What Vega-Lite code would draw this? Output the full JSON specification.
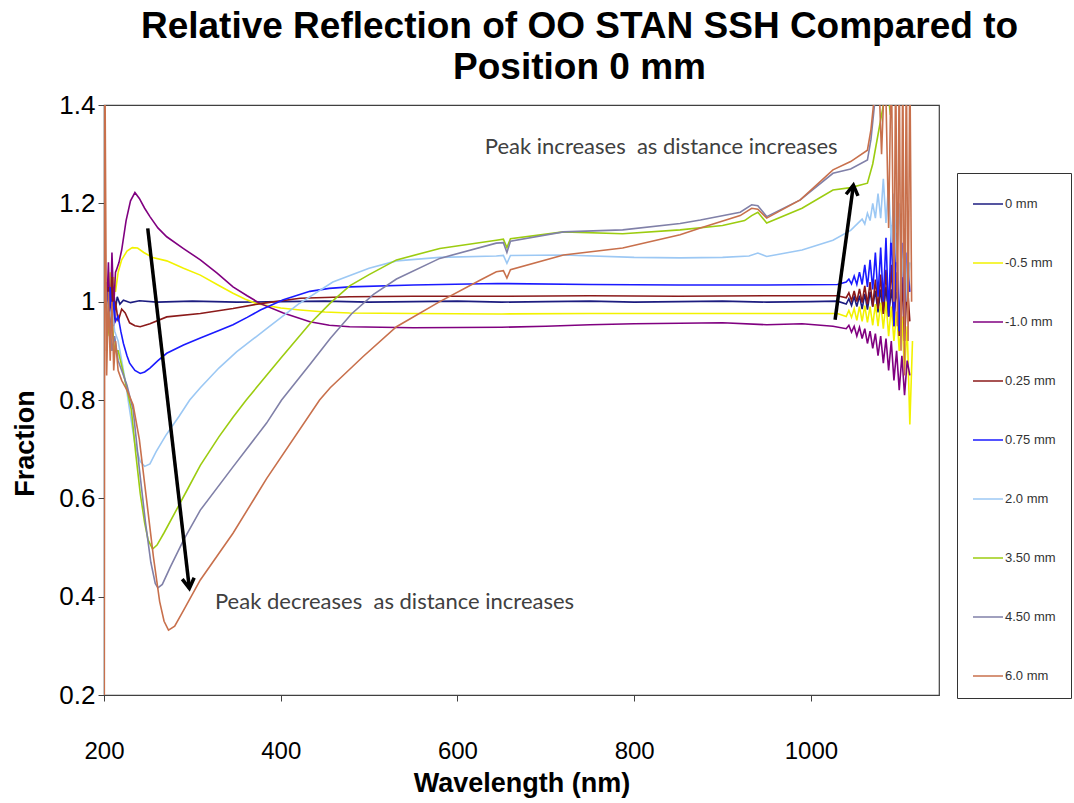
{
  "$schema": "https://vega.github.io/schema/vega-lite/v6.json",
  "autosize": {"type": "none"},
  "width": 835,
  "height": 590,
  "padding": {"left": 104, "top": 105, "right": 135, "bottom": 108},
  "background": "white",
  "title": {
    "text": ["Relative Reflection of OO STAN SSH Compared to", "Position 0 mm"],
    "anchor": "middle",
    "dx": 58,
    "dy": 48,
    "baseline": "bottom",
    "offset": 16,
    "fontSize": 37,
    "lineHeight": 41,
    "font": "Liberation Sans",
    "fontWeight": "bold",
    "color": "#000000"
  },
  "config": {
    "view": {"stroke": "#404040", "strokeWidth": 1.2},
    "axis": {
      "grid": false,
      "domainColor": "#404040",
      "tickColor": "#404040",
      "tickSize": 6,
      "labelFlush": false,
      "labelFont": "Liberation Sans",
      "labelColor": "#000000",
      "titleFont": "Liberation Sans",
      "titleFontWeight": "bold",
      "titleColor": "#000000"
    },
    "axisX": {"labelFontSize": 24, "labelPadding": 38, "titleFontSize": 27, "titleY": 88, "titleBaseline": "middle"},
    "axisY": {"labelFontSize": 26, "labelPadding": 3, "titleFontSize": 27, "titleX": -79, "titleY": 338, "titleBaseline": "middle", "titleAngle": 270, "titleAlign": "center"}
  },
  "datasets": {
    "spectra": [
      {"s":"0 mm","x":203,"y":1.04},{"s":"0 mm","x":205,"y":0.96},{"s":"0 mm","x":207,"y":1.03},{"s":"0 mm","x":209,"y":0.98},{"s":"0 mm","x":211,"y":1.02},{"s":"0 mm","x":213,"y":0.985},{"s":"0 mm","x":215,"y":1.01},{"s":"0 mm","x":218,"y":0.995},{"s":"0 mm","x":222,"y":1.003},{"s":"0 mm","x":230,"y":0.998},{"s":"0 mm","x":240,"y":1.002},{"s":"0 mm","x":260,"y":0.999},{"s":"0 mm","x":300,"y":1.001},{"s":"0 mm","x":350,"y":0.999},{"s":"0 mm","x":400,"y":1.0},{"s":"0 mm","x":450,"y":1.001},{"s":"0 mm","x":500,"y":0.999},{"s":"0 mm","x":550,"y":1.0},{"s":"0 mm","x":600,"y":1.001},{"s":"0 mm","x":650,"y":0.999},{"s":"0 mm","x":700,"y":1.0},{"s":"0 mm","x":750,"y":1.001},{"s":"0 mm","x":800,"y":0.999},{"s":"0 mm","x":850,"y":1.0},{"s":"0 mm","x":900,"y":1.001},{"s":"0 mm","x":950,"y":0.999},{"s":"0 mm","x":1000,"y":1.0},{"s":"0 mm","x":1030,"y":1.001},{"s":"0 mm","x":1040,"y":0.995},{"s":"0 mm","x":1043,"y":1.006},{"s":"0 mm","x":1046,"y":0.992},{"s":"0 mm","x":1049,"y":1.01},{"s":"0 mm","x":1052,"y":0.99},{"s":"0 mm","x":1055,"y":1.012},{"s":"0 mm","x":1058,"y":0.985},{"s":"0 mm","x":1061,"y":1.016},{"s":"0 mm","x":1064,"y":0.984},{"s":"0 mm","x":1067,"y":1.02},{"s":"0 mm","x":1070,"y":0.99},{"s":"0 mm","x":1073,"y":1.022},{"s":"0 mm","x":1076,"y":0.978},{"s":"0 mm","x":1079,"y":1.025},{"s":"0 mm","x":1082,"y":0.975},{"s":"0 mm","x":1085,"y":1.03},{"s":"0 mm","x":1088,"y":0.97},{"s":"0 mm","x":1091,"y":1.025},{"s":"0 mm","x":1094,"y":0.975},{"s":"0 mm","x":1097,"y":1.02},{"s":"0 mm","x":1100,"y":0.985},{"s":"0 mm","x":1104,"y":1.01},{"s":"0 mm","x":1108,"y":0.995},

      {"s":"-0.5 mm","x":203,"y":1.0},{"s":"-0.5 mm","x":205,"y":0.94},{"s":"-0.5 mm","x":207,"y":1.06},{"s":"-0.5 mm","x":209,"y":0.99},{"s":"-0.5 mm","x":211,"y":1.05},{"s":"-0.5 mm","x":213,"y":1.02},{"s":"-0.5 mm","x":216,"y":1.06},{"s":"-0.5 mm","x":220,"y":1.085},{"s":"-0.5 mm","x":226,"y":1.103},{"s":"-0.5 mm","x":232,"y":1.11},{"s":"-0.5 mm","x":238,"y":1.109},{"s":"-0.5 mm","x":245,"y":1.1},{"s":"-0.5 mm","x":255,"y":1.09},{"s":"-0.5 mm","x":271,"y":1.083},{"s":"-0.5 mm","x":290,"y":1.068},{"s":"-0.5 mm","x":309,"y":1.054},{"s":"-0.5 mm","x":330,"y":1.033},{"s":"-0.5 mm","x":346,"y":1.017},{"s":"-0.5 mm","x":360,"y":1.005},{"s":"-0.5 mm","x":373,"y":0.996},{"s":"-0.5 mm","x":400,"y":0.987},{"s":"-0.5 mm","x":422,"y":0.983},{"s":"-0.5 mm","x":450,"y":0.979},{"s":"-0.5 mm","x":478,"y":0.977},{"s":"-0.5 mm","x":550,"y":0.976},{"s":"-0.5 mm","x":650,"y":0.975},{"s":"-0.5 mm","x":750,"y":0.976},{"s":"-0.5 mm","x":850,"y":0.976},{"s":"-0.5 mm","x":950,"y":0.976},{"s":"-0.5 mm","x":1030,"y":0.976},{"s":"-0.5 mm","x":1040,"y":0.97},{"s":"-0.5 mm","x":1043,"y":0.982},{"s":"-0.5 mm","x":1046,"y":0.968},{"s":"-0.5 mm","x":1049,"y":0.986},{"s":"-0.5 mm","x":1052,"y":0.962},{"s":"-0.5 mm","x":1055,"y":0.99},{"s":"-0.5 mm","x":1058,"y":0.96},{"s":"-0.5 mm","x":1061,"y":0.992},{"s":"-0.5 mm","x":1064,"y":0.958},{"s":"-0.5 mm","x":1067,"y":0.99},{"s":"-0.5 mm","x":1070,"y":0.952},{"s":"-0.5 mm","x":1073,"y":0.995},{"s":"-0.5 mm","x":1076,"y":0.95},{"s":"-0.5 mm","x":1079,"y":0.998},{"s":"-0.5 mm","x":1082,"y":0.945},{"s":"-0.5 mm","x":1085,"y":1.0},{"s":"-0.5 mm","x":1088,"y":0.93},{"s":"-0.5 mm","x":1091,"y":0.99},{"s":"-0.5 mm","x":1094,"y":0.92},{"s":"-0.5 mm","x":1097,"y":0.98},{"s":"-0.5 mm","x":1100,"y":0.9},{"s":"-0.5 mm","x":1103,"y":0.97},{"s":"-0.5 mm","x":1106,"y":0.86},{"s":"-0.5 mm","x":1109,"y":0.95},{"s":"-0.5 mm","x":1112,"y":0.75},{"s":"-0.5 mm","x":1115,"y":0.92},

      {"s":"-1.0 mm","x":203,"y":0.98},{"s":"-1.0 mm","x":205,"y":1.08},{"s":"-1.0 mm","x":207,"y":0.95},{"s":"-1.0 mm","x":209,"y":1.1},{"s":"-1.0 mm","x":211,"y":0.99},{"s":"-1.0 mm","x":213,"y":1.06},{"s":"-1.0 mm","x":214,"y":1.064},{"s":"-1.0 mm","x":217,"y":1.08},{"s":"-1.0 mm","x":220,"y":1.105},{"s":"-1.0 mm","x":225,"y":1.165},{"s":"-1.0 mm","x":230,"y":1.205},{"s":"-1.0 mm","x":235,"y":1.222},{"s":"-1.0 mm","x":240,"y":1.21},{"s":"-1.0 mm","x":246,"y":1.19},{"s":"-1.0 mm","x":252,"y":1.173},{"s":"-1.0 mm","x":261,"y":1.15},{"s":"-1.0 mm","x":271,"y":1.132},{"s":"-1.0 mm","x":290,"y":1.108},{"s":"-1.0 mm","x":309,"y":1.085},{"s":"-1.0 mm","x":328,"y":1.058},{"s":"-1.0 mm","x":346,"y":1.03},{"s":"-1.0 mm","x":362,"y":1.012},{"s":"-1.0 mm","x":377,"y":0.996},{"s":"-1.0 mm","x":403,"y":0.977},{"s":"-1.0 mm","x":433,"y":0.959},{"s":"-1.0 mm","x":455,"y":0.952},{"s":"-1.0 mm","x":478,"y":0.949},{"s":"-1.0 mm","x":550,"y":0.947},{"s":"-1.0 mm","x":650,"y":0.948},{"s":"-1.0 mm","x":700,"y":0.95},{"s":"-1.0 mm","x":750,"y":0.953},{"s":"-1.0 mm","x":800,"y":0.955},{"s":"-1.0 mm","x":852,"y":0.956},{"s":"-1.0 mm","x":900,"y":0.957},{"s":"-1.0 mm","x":950,"y":0.953},{"s":"-1.0 mm","x":990,"y":0.955},{"s":"-1.0 mm","x":1025,"y":0.95},{"s":"-1.0 mm","x":1040,"y":0.945},{"s":"-1.0 mm","x":1043,"y":0.952},{"s":"-1.0 mm","x":1046,"y":0.938},{"s":"-1.0 mm","x":1049,"y":0.95},{"s":"-1.0 mm","x":1052,"y":0.93},{"s":"-1.0 mm","x":1055,"y":0.948},{"s":"-1.0 mm","x":1058,"y":0.925},{"s":"-1.0 mm","x":1061,"y":0.945},{"s":"-1.0 mm","x":1064,"y":0.915},{"s":"-1.0 mm","x":1067,"y":0.94},{"s":"-1.0 mm","x":1070,"y":0.905},{"s":"-1.0 mm","x":1073,"y":0.935},{"s":"-1.0 mm","x":1076,"y":0.89},{"s":"-1.0 mm","x":1079,"y":0.93},{"s":"-1.0 mm","x":1082,"y":0.875},{"s":"-1.0 mm","x":1085,"y":0.925},{"s":"-1.0 mm","x":1088,"y":0.86},{"s":"-1.0 mm","x":1091,"y":0.92},{"s":"-1.0 mm","x":1094,"y":0.84},{"s":"-1.0 mm","x":1097,"y":0.9},{"s":"-1.0 mm","x":1100,"y":0.82},{"s":"-1.0 mm","x":1103,"y":0.89},{"s":"-1.0 mm","x":1106,"y":0.81},{"s":"-1.0 mm","x":1109,"y":0.88},{"s":"-1.0 mm","x":1112,"y":0.85},

      {"s":"0.25 mm","x":203,"y":0.9},{"s":"0.25 mm","x":205,"y":1.03},{"s":"0.25 mm","x":207,"y":0.92},{"s":"0.25 mm","x":209,"y":1.05},{"s":"0.25 mm","x":211,"y":0.95},{"s":"0.25 mm","x":213,"y":1.0},{"s":"0.25 mm","x":216,"y":0.96},{"s":"0.25 mm","x":220,"y":0.985},{"s":"0.25 mm","x":224,"y":0.977},{"s":"0.25 mm","x":229,"y":0.957},{"s":"0.25 mm","x":235,"y":0.951},{"s":"0.25 mm","x":241,"y":0.949},{"s":"0.25 mm","x":252,"y":0.955},{"s":"0.25 mm","x":271,"y":0.969},{"s":"0.25 mm","x":309,"y":0.976},{"s":"0.25 mm","x":346,"y":0.986},{"s":"0.25 mm","x":377,"y":0.996},{"s":"0.25 mm","x":422,"y":1.007},{"s":"0.25 mm","x":478,"y":1.01},{"s":"0.25 mm","x":550,"y":1.011},{"s":"0.25 mm","x":650,"y":1.011},{"s":"0.25 mm","x":750,"y":1.012},{"s":"0.25 mm","x":850,"y":1.011},{"s":"0.25 mm","x":950,"y":1.012},{"s":"0.25 mm","x":1030,"y":1.012},{"s":"0.25 mm","x":1040,"y":1.008},{"s":"0.25 mm","x":1043,"y":1.018},{"s":"0.25 mm","x":1046,"y":1.002},{"s":"0.25 mm","x":1049,"y":1.022},{"s":"0.25 mm","x":1052,"y":1.0},{"s":"0.25 mm","x":1055,"y":1.026},{"s":"0.25 mm","x":1058,"y":0.998},{"s":"0.25 mm","x":1061,"y":1.032},{"s":"0.25 mm","x":1064,"y":0.995},{"s":"0.25 mm","x":1067,"y":1.04},{"s":"0.25 mm","x":1070,"y":0.99},{"s":"0.25 mm","x":1073,"y":1.045},{"s":"0.25 mm","x":1076,"y":0.985},{"s":"0.25 mm","x":1079,"y":1.055},{"s":"0.25 mm","x":1082,"y":0.975},{"s":"0.25 mm","x":1085,"y":1.065},{"s":"0.25 mm","x":1088,"y":0.97},{"s":"0.25 mm","x":1091,"y":1.075},{"s":"0.25 mm","x":1094,"y":0.95},{"s":"0.25 mm","x":1097,"y":1.06},{"s":"0.25 mm","x":1100,"y":0.93},{"s":"0.25 mm","x":1103,"y":1.05},{"s":"0.25 mm","x":1106,"y":0.92},{"s":"0.25 mm","x":1109,"y":1.04},{"s":"0.25 mm","x":1112,"y":0.96},

      {"s":"0.75 mm","x":203,"y":1.02},{"s":"0.75 mm","x":205,"y":0.96},{"s":"0.75 mm","x":207,"y":1.03},{"s":"0.75 mm","x":209,"y":0.95},{"s":"0.75 mm","x":211,"y":1.0},{"s":"0.75 mm","x":213,"y":0.96},{"s":"0.75 mm","x":216,"y":0.97},{"s":"0.75 mm","x":219,"y":0.94},{"s":"0.75 mm","x":222,"y":0.915},{"s":"0.75 mm","x":226,"y":0.89},{"s":"0.75 mm","x":229,"y":0.875},{"s":"0.75 mm","x":235,"y":0.86},{"s":"0.75 mm","x":241,"y":0.854},{"s":"0.75 mm","x":246,"y":0.857},{"s":"0.75 mm","x":252,"y":0.865},{"s":"0.75 mm","x":261,"y":0.88},{"s":"0.75 mm","x":271,"y":0.895},{"s":"0.75 mm","x":290,"y":0.912},{"s":"0.75 mm","x":309,"y":0.926},{"s":"0.75 mm","x":328,"y":0.94},{"s":"0.75 mm","x":346,"y":0.953},{"s":"0.75 mm","x":362,"y":0.968},{"s":"0.75 mm","x":377,"y":0.983},{"s":"0.75 mm","x":403,"y":1.004},{"s":"0.75 mm","x":433,"y":1.021},{"s":"0.75 mm","x":455,"y":1.027},{"s":"0.75 mm","x":478,"y":1.03},{"s":"0.75 mm","x":550,"y":1.034},{"s":"0.75 mm","x":645,"y":1.037},{"s":"0.75 mm","x":750,"y":1.035},{"s":"0.75 mm","x":850,"y":1.034},{"s":"0.75 mm","x":950,"y":1.034},{"s":"0.75 mm","x":1030,"y":1.035},{"s":"0.75 mm","x":1040,"y":1.04},{"s":"0.75 mm","x":1043,"y":1.046},{"s":"0.75 mm","x":1046,"y":1.036},{"s":"0.75 mm","x":1049,"y":1.052},{"s":"0.75 mm","x":1052,"y":1.035},{"s":"0.75 mm","x":1055,"y":1.06},{"s":"0.75 mm","x":1058,"y":1.035},{"s":"0.75 mm","x":1061,"y":1.075},{"s":"0.75 mm","x":1064,"y":1.03},{"s":"0.75 mm","x":1067,"y":1.085},{"s":"0.75 mm","x":1070,"y":1.025},{"s":"0.75 mm","x":1073,"y":1.1},{"s":"0.75 mm","x":1076,"y":1.01},{"s":"0.75 mm","x":1079,"y":1.11},{"s":"0.75 mm","x":1082,"y":1.0},{"s":"0.75 mm","x":1085,"y":1.13},{"s":"0.75 mm","x":1088,"y":0.97},{"s":"0.75 mm","x":1091,"y":1.155},{"s":"0.75 mm","x":1094,"y":0.95},{"s":"0.75 mm","x":1097,"y":1.14},{"s":"0.75 mm","x":1100,"y":0.94},{"s":"0.75 mm","x":1103,"y":1.12},{"s":"0.75 mm","x":1106,"y":0.97},{"s":"0.75 mm","x":1109,"y":1.1},{"s":"0.75 mm","x":1112,"y":1.02},

      {"s":"2.0 mm","x":203,"y":1.0},{"s":"2.0 mm","x":206,"y":0.96},{"s":"2.0 mm","x":209,"y":0.99},{"s":"2.0 mm","x":212,"y":0.94},{"s":"2.0 mm","x":216,"y":0.92},{"s":"2.0 mm","x":220,"y":0.88},{"s":"2.0 mm","x":224,"y":0.84},{"s":"2.0 mm","x":229,"y":0.78},{"s":"2.0 mm","x":235,"y":0.71},{"s":"2.0 mm","x":241,"y":0.675},{"s":"2.0 mm","x":246,"y":0.665},{"s":"2.0 mm","x":252,"y":0.67},{"s":"2.0 mm","x":259,"y":0.695},{"s":"2.0 mm","x":270,"y":0.728},{"s":"2.0 mm","x":285,"y":0.767},{"s":"2.0 mm","x":297,"y":0.8},{"s":"2.0 mm","x":309,"y":0.825},{"s":"2.0 mm","x":330,"y":0.865},{"s":"2.0 mm","x":350,"y":0.898},{"s":"2.0 mm","x":384,"y":0.945},{"s":"2.0 mm","x":420,"y":0.995},{"s":"2.0 mm","x":459,"y":1.04},{"s":"2.0 mm","x":500,"y":1.068},{"s":"2.0 mm","x":531,"y":1.083},{"s":"2.0 mm","x":580,"y":1.09},{"s":"2.0 mm","x":644,"y":1.093},{"s":"2.0 mm","x":652,"y":1.094},{"s":"2.0 mm","x":656,"y":1.078},{"s":"2.0 mm","x":660,"y":1.094},{"s":"2.0 mm","x":720,"y":1.095},{"s":"2.0 mm","x":800,"y":1.09},{"s":"2.0 mm","x":852,"y":1.089},{"s":"2.0 mm","x":900,"y":1.09},{"s":"2.0 mm","x":930,"y":1.093},{"s":"2.0 mm","x":940,"y":1.099},{"s":"2.0 mm","x":950,"y":1.092},{"s":"2.0 mm","x":990,"y":1.105},{"s":"2.0 mm","x":1025,"y":1.125},{"s":"2.0 mm","x":1045,"y":1.145},{"s":"2.0 mm","x":1058,"y":1.168},{"s":"2.0 mm","x":1061,"y":1.158},{"s":"2.0 mm","x":1064,"y":1.18},{"s":"2.0 mm","x":1067,"y":1.165},{"s":"2.0 mm","x":1070,"y":1.2},{"s":"2.0 mm","x":1073,"y":1.17},{"s":"2.0 mm","x":1076,"y":1.22},{"s":"2.0 mm","x":1079,"y":1.17},{"s":"2.0 mm","x":1082,"y":1.25},{"s":"2.0 mm","x":1085,"y":1.16},{"s":"2.0 mm","x":1088,"y":1.24},{"s":"2.0 mm","x":1091,"y":1.12},{"s":"2.0 mm","x":1094,"y":1.22},{"s":"2.0 mm","x":1097,"y":1.08},{"s":"2.0 mm","x":1100,"y":1.2},{"s":"2.0 mm","x":1103,"y":1.05},{"s":"2.0 mm","x":1106,"y":1.15},{"s":"2.0 mm","x":1109,"y":1.0},{"s":"2.0 mm","x":1112,"y":1.08},

      {"s":"3.50 mm","x":203,"y":0.97},{"s":"3.50 mm","x":206,"y":0.93},{"s":"3.50 mm","x":209,"y":0.96},{"s":"3.50 mm","x":212,"y":0.9},{"s":"3.50 mm","x":216,"y":0.9},{"s":"3.50 mm","x":220,"y":0.87},{"s":"3.50 mm","x":225,"y":0.83},{"s":"3.50 mm","x":231,"y":0.78},{"s":"3.50 mm","x":236,"y":0.69},{"s":"3.50 mm","x":241,"y":0.61},{"s":"3.50 mm","x":246,"y":0.55},{"s":"3.50 mm","x":250,"y":0.515},{"s":"3.50 mm","x":255,"y":0.497},{"s":"3.50 mm","x":260,"y":0.505},{"s":"3.50 mm","x":268,"y":0.53},{"s":"3.50 mm","x":280,"y":0.57},{"s":"3.50 mm","x":295,"y":0.62},{"s":"3.50 mm","x":309,"y":0.667},{"s":"3.50 mm","x":330,"y":0.725},{"s":"3.50 mm","x":346,"y":0.765},{"s":"3.50 mm","x":361,"y":0.8},{"s":"3.50 mm","x":400,"y":0.885},{"s":"3.50 mm","x":433,"y":0.955},{"s":"3.50 mm","x":456,"y":0.997},{"s":"3.50 mm","x":478,"y":1.032},{"s":"3.50 mm","x":500,"y":1.055},{"s":"3.50 mm","x":531,"y":1.085},{"s":"3.50 mm","x":580,"y":1.108},{"s":"3.50 mm","x":644,"y":1.125},{"s":"3.50 mm","x":652,"y":1.127},{"s":"3.50 mm","x":656,"y":1.11},{"s":"3.50 mm","x":660,"y":1.128},{"s":"3.50 mm","x":720,"y":1.142},{"s":"3.50 mm","x":787,"y":1.138},{"s":"3.50 mm","x":852,"y":1.146},{"s":"3.50 mm","x":900,"y":1.155},{"s":"3.50 mm","x":925,"y":1.165},{"s":"3.50 mm","x":933,"y":1.175},{"s":"3.50 mm","x":940,"y":1.182},{"s":"3.50 mm","x":950,"y":1.16},{"s":"3.50 mm","x":990,"y":1.19},{"s":"3.50 mm","x":1025,"y":1.227},{"s":"3.50 mm","x":1045,"y":1.232},{"s":"3.50 mm","x":1064,"y":1.241},{"s":"3.50 mm","x":1070,"y":1.28},{"s":"3.50 mm","x":1076,"y":1.34},{"s":"3.50 mm","x":1082,"y":1.4},{"s":"3.50 mm","x":1086,"y":1.45},{"s":"3.50 mm","x":1090,"y":1.38},{"s":"3.50 mm","x":1094,"y":1.5},{"s":"3.50 mm","x":1098,"y":1.42},{"s":"3.50 mm","x":1102,"y":1.5},

      {"s":"4.50 mm","x":203,"y":0.95},{"s":"4.50 mm","x":206,"y":0.98},{"s":"4.50 mm","x":209,"y":0.9},{"s":"4.50 mm","x":212,"y":0.93},{"s":"4.50 mm","x":216,"y":0.88},{"s":"4.50 mm","x":220,"y":0.86},{"s":"4.50 mm","x":226,"y":0.83},{"s":"4.50 mm","x":233,"y":0.78},{"s":"4.50 mm","x":240,"y":0.66},{"s":"4.50 mm","x":247,"y":0.55},{"s":"4.50 mm","x":253,"y":0.47},{"s":"4.50 mm","x":258,"y":0.427},{"s":"4.50 mm","x":261,"y":0.418},{"s":"4.50 mm","x":266,"y":0.425},{"s":"4.50 mm","x":275,"y":0.46},{"s":"4.50 mm","x":290,"y":0.515},{"s":"4.50 mm","x":309,"y":0.576},{"s":"4.50 mm","x":346,"y":0.664},{"s":"4.50 mm","x":384,"y":0.753},{"s":"4.50 mm","x":401,"y":0.8},{"s":"4.50 mm","x":433,"y":0.872},{"s":"4.50 mm","x":456,"y":0.925},{"s":"4.50 mm","x":480,"y":0.975},{"s":"4.50 mm","x":505,"y":1.015},{"s":"4.50 mm","x":531,"y":1.046},{"s":"4.50 mm","x":580,"y":1.088},{"s":"4.50 mm","x":644,"y":1.119},{"s":"4.50 mm","x":652,"y":1.12},{"s":"4.50 mm","x":656,"y":1.1},{"s":"4.50 mm","x":660,"y":1.123},{"s":"4.50 mm","x":720,"y":1.142},{"s":"4.50 mm","x":787,"y":1.146},{"s":"4.50 mm","x":852,"y":1.159},{"s":"4.50 mm","x":875,"y":1.166},{"s":"4.50 mm","x":920,"y":1.182},{"s":"4.50 mm","x":933,"y":1.197},{"s":"4.50 mm","x":940,"y":1.195},{"s":"4.50 mm","x":950,"y":1.173},{"s":"4.50 mm","x":988,"y":1.207},{"s":"4.50 mm","x":1025,"y":1.261},{"s":"4.50 mm","x":1045,"y":1.27},{"s":"4.50 mm","x":1064,"y":1.288},{"s":"4.50 mm","x":1068,"y":1.33},{"s":"4.50 mm","x":1072,"y":1.4},{"s":"4.50 mm","x":1076,"y":1.5},

      {"s":"6.0 mm","x":200.3,"y":0.1},{"s":"6.0 mm","x":201,"y":1.5},{"s":"6.0 mm","x":203,"y":0.85},{"s":"6.0 mm","x":205,"y":1.02},{"s":"6.0 mm","x":207,"y":0.88},{"s":"6.0 mm","x":209,"y":1.0},{"s":"6.0 mm","x":211,"y":0.86},{"s":"6.0 mm","x":213,"y":0.92},{"s":"6.0 mm","x":216,"y":0.86},{"s":"6.0 mm","x":220,"y":0.84},{"s":"6.0 mm","x":226,"y":0.82},{"s":"6.0 mm","x":233,"y":0.79},{"s":"6.0 mm","x":240,"y":0.72},{"s":"6.0 mm","x":248,"y":0.6},{"s":"6.0 mm","x":256,"y":0.48},{"s":"6.0 mm","x":263,"y":0.39},{"s":"6.0 mm","x":268,"y":0.35},{"s":"6.0 mm","x":273,"y":0.332},{"s":"6.0 mm","x":280,"y":0.34},{"s":"6.0 mm","x":290,"y":0.372},{"s":"6.0 mm","x":309,"y":0.434},{"s":"6.0 mm","x":346,"y":0.529},{"s":"6.0 mm","x":384,"y":0.64},{"s":"6.0 mm","x":444,"y":0.8},{"s":"6.0 mm","x":456,"y":0.825},{"s":"6.0 mm","x":493,"y":0.888},{"s":"6.0 mm","x":531,"y":0.949},{"s":"6.0 mm","x":580,"y":1.0},{"s":"6.0 mm","x":626,"y":1.044},{"s":"6.0 mm","x":644,"y":1.061},{"s":"6.0 mm","x":652,"y":1.063},{"s":"6.0 mm","x":656,"y":1.048},{"s":"6.0 mm","x":660,"y":1.065},{"s":"6.0 mm","x":720,"y":1.095},{"s":"6.0 mm","x":787,"y":1.109},{"s":"6.0 mm","x":852,"y":1.136},{"s":"6.0 mm","x":875,"y":1.15},{"s":"6.0 mm","x":920,"y":1.175},{"s":"6.0 mm","x":933,"y":1.19},{"s":"6.0 mm","x":940,"y":1.188},{"s":"6.0 mm","x":950,"y":1.17},{"s":"6.0 mm","x":988,"y":1.207},{"s":"6.0 mm","x":1025,"y":1.268},{"s":"6.0 mm","x":1045,"y":1.285},{"s":"6.0 mm","x":1064,"y":1.308},{"s":"6.0 mm","x":1068,"y":1.35},{"s":"6.0 mm","x":1072,"y":1.42},{"s":"6.0 mm","x":1076,"y":1.5},{"s":"6.0 mm","x":1080,"y":1.3},{"s":"6.0 mm","x":1084,"y":1.5},{"s":"6.0 mm","x":1088,"y":1.15},{"s":"6.0 mm","x":1091,"y":1.5},{"s":"6.0 mm","x":1094,"y":1.0},{"s":"6.0 mm","x":1096,"y":1.5},{"s":"6.0 mm","x":1098,"y":0.95},{"s":"6.0 mm","x":1100,"y":1.5},{"s":"6.0 mm","x":1102,"y":0.9},{"s":"6.0 mm","x":1104,"y":1.5},{"s":"6.0 mm","x":1106,"y":0.85},{"s":"6.0 mm","x":1108,"y":1.5},{"s":"6.0 mm","x":1110,"y":0.92},{"s":"6.0 mm","x":1112,"y":1.5},{"s":"6.0 mm","x":1114,"y":1.0}
    ],
    "arrows": [
      {"id": 1, "x0": 249.5, "y0": 1.149, "x1": 296.6, "y1": 0.417},
      {"id": 2, "x0": 1027.4, "y0": 0.963, "x1": 1048.1, "y1": 1.237}
    ],
    "notes": [
      {"text": "Peak increases \u00a0as distance increases", "x": 631, "y": 1.315},
      {"text": "Peak decreases \u00a0as distance increases", "x": 325.6, "y": 0.389}
    ]
  },
  "layer": [
    {
      "data": {"name": "spectra"},
      "mark": {"type": "line", "strokeWidth": 1.6, "clip": true},
      "encoding": {
        "x": {"field": "x", "type": "quantitative", "title": "Wavelength (nm)",
              "scale": {"domain": [200, 1145], "nice": false, "zero": false},
              "axis": {"values": [200, 400, 600, 800, 1000], "format": "d"}},
        "y": {"field": "y", "type": "quantitative", "title": "Fraction",
              "scale": {"domain": [0.2, 1.4], "nice": false, "zero": false},
              "axis": {"values": [0.2, 0.4, 0.6, 0.8, 1, 1.2, 1.4], "format": "~g"}},
        "color": {"field": "s", "type": "nominal",
          "scale": {"domain": ["0 mm", "-0.5 mm", "-1.0 mm", "0.25 mm", "0.75 mm", "2.0 mm", "3.50 mm", "4.50 mm", "6.0 mm"],
                    "range": ["#1c1c80", "#f2f200", "#800080", "#8b1a1a", "#1a1aff", "#9cc8f4", "#9ccc10", "#8080a8", "#c8704c"]},
          "legend": {"title": null, "orient": "none", "legendX": 853, "legendY": 68,
                     "symbolType": "stroke", "symbolSize": 900, "symbolStrokeWidth": 1.5,
                     "rowPadding": 36, "padding": 15, "labelFont": "Liberation Sans",
                     "labelFontSize": 13, "labelColor": "#333333", "labelOffset": 1,
                     "strokeColor": "#333333", "fillColor": "#ffffff"}}
      }
    },
    {
      "data": {"name": "arrows"},
      "mark": {"type": "rule", "strokeWidth": 3.5, "color": "#000000"},
      "encoding": {
        "x": {"field": "x0", "type": "quantitative", "title": "Wavelength (nm)"},
        "y": {"field": "y0", "type": "quantitative", "title": "Fraction"},
        "x2": {"field": "x1"},
        "y2": {"field": "y1"}
      }
    },
    {
      "data": {"name": "arrows"},
      "transform": [{"filter": "datum.id == 1"}],
      "mark": {"type": "point", "shape": "M -0.6 -1 L 0 0 L 0.6 -1", "filled": false, "size": 400, "strokeWidth": 3.5, "color": "#000000", "opacity": 1, "angle": 353.4},
      "encoding": {
        "x": {"field": "x1", "type": "quantitative", "title": "Wavelength (nm)"},
        "y": {"field": "y1", "type": "quantitative", "title": "Fraction"}
      }
    },
    {
      "data": {"name": "arrows"},
      "transform": [{"filter": "datum.id == 2"}],
      "mark": {"type": "point", "shape": "M -0.6 -1 L 0 0 L 0.6 -1", "filled": false, "size": 400, "strokeWidth": 3.5, "color": "#000000", "opacity": 1, "angle": 187.7},
      "encoding": {
        "x": {"field": "x1", "type": "quantitative", "title": "Wavelength (nm)"},
        "y": {"field": "y1", "type": "quantitative", "title": "Fraction"}
      }
    },
    {
      "data": {"name": "notes"},
      "mark": {"type": "text", "align": "left", "baseline": "middle", "font": "Lato", "fontSize": 22, "color": "#404040"},
      "encoding": {
        "x": {"field": "x", "type": "quantitative", "title": "Wavelength (nm)"},
        "y": {"field": "y", "type": "quantitative", "title": "Fraction"},
        "text": {"field": "text"}
      }
    }
  ]
}
